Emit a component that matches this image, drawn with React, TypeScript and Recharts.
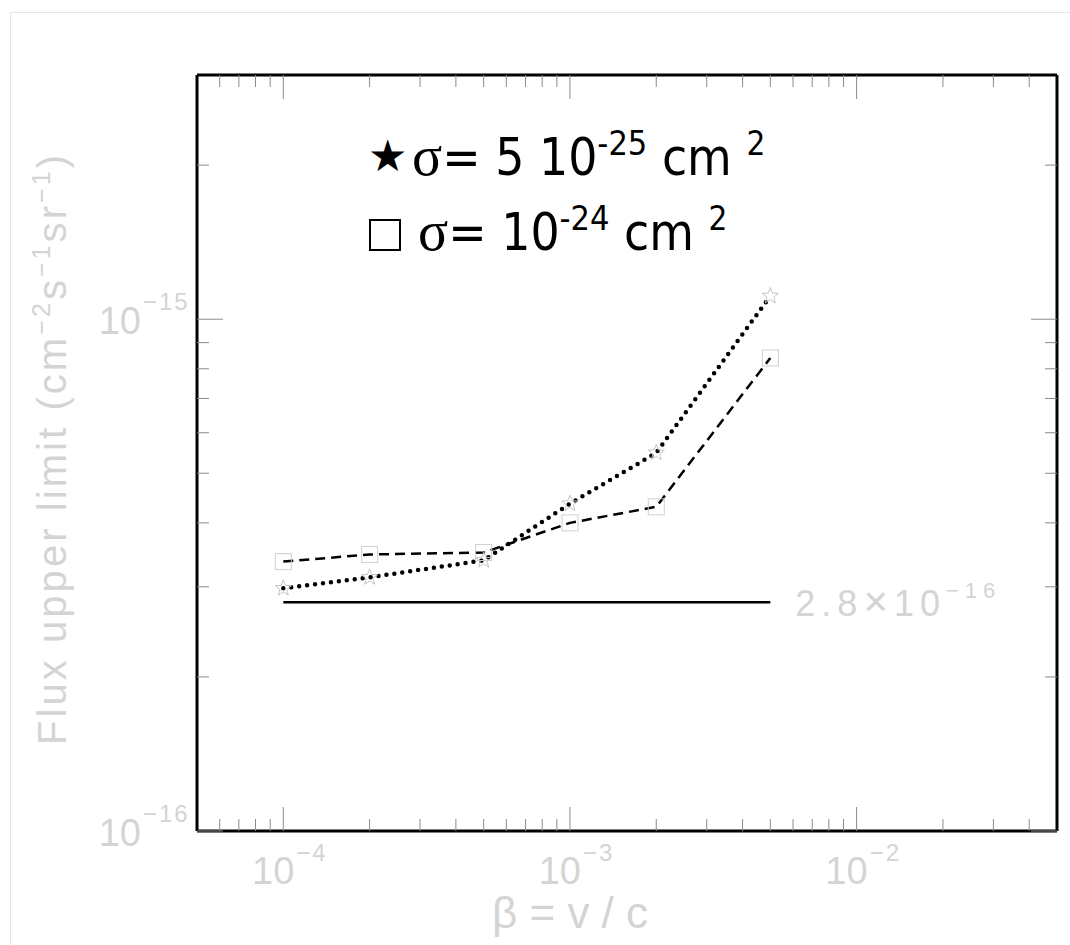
import { ComposedChart, Line, Scatter, XAxis, YAxis } from 'recharts';

// beta = v/c on the x axis, flux upper limit on the y axis (both log)
const beta = [1e-4, 2e-4, 5e-4, 1e-3, 2e-3, 5e-3];
const fluxSigma5e25 = [2.98e-16, 3.13e-16, 3.38e-16, 4.36e-16, 5.48e-16, 1.11e-15];
const fluxSigma1e24 = [3.36e-16, 3.47e-16, 3.5e-16, 4.0e-16, 4.3e-16, 8.4e-16];
const limitBeta = [1e-4, 5e-3];
const limitFlux = 2.8e-16;

const xTicks = [
  6e-5, 7e-5, 8e-5, 9e-5, 1e-4, 2e-4, 3e-4, 4e-4, 5e-4, 6e-4, 7e-4, 8e-4, 9e-4,
  1e-3, 2e-3, 3e-3, 4e-3, 5e-3, 6e-3, 7e-3, 8e-3, 9e-3, 1e-2, 2e-2, 3e-2, 4e-2,
];
const xMajor = [1e-4, 1e-3, 1e-2];
const xMajorExp = ['\u22124', '\u22123', '\u22122'];
const yTicks = [1e-16, 2e-16, 3e-16, 4e-16, 5e-16, 6e-16, 7e-16, 8e-16, 9e-16, 1e-15, 2e-15];
const yMajor = [1e-16, 1e-15];
const yMajorExp = ['\u221216', '\u221215'];

const starRows = beta.map((x, i) => ({ x, y: fluxSigma5e25[i] }));
const squareRows = beta.map((x, i) => ({ x, y: fluxSigma1e24[i] }));
const limitRows = limitBeta.map((x) => ({ x, y: limitFlux }));

const LABEL = '#d4d4d4';
const TICK = '#8a8a8a';
const FONT = "'Liberation Sans', Arial, sans-serif";

function BottomTick({ x, y, payload }: any) {
  const i = xMajor.indexOf(payload.value);
  const len = i >= 0 ? 24 : 12;
  return (
    <g>
      <line x1={x} x2={x} y1={y} y2={y - len} stroke={TICK} strokeWidth={1} />
      {i >= 0 && (
        <text fontFamily={FONT} fill={LABEL}>
          <tspan x={x + 11} y={y + 53} fontSize={38} textAnchor="end">10</tspan>
          <tspan x={x + 13} y={y + 30} fontSize={24} letterSpacing={2}>{xMajorExp[i]}</tspan>
        </text>
      )}
    </g>
  );
}

function TopTick({ x, y, payload }: any) {
  const len = xMajor.indexOf(payload.value) >= 0 ? 24 : 12;
  return <line x1={x} x2={x} y1={y} y2={y + len} stroke={TICK} strokeWidth={1} />;
}

function LeftTick({ x, y, payload }: any) {
  const i = yMajor.indexOf(payload.value);
  const len = i >= 0 ? 26 : 12;
  return (
    <g>
      <line x1={x} x2={x + len} y1={y} y2={y} stroke={TICK} strokeWidth={1} />
      {i >= 0 && (
        <text fontFamily={FONT} fill={LABEL}>
          <tspan x={x - 56} y={y + 15} fontSize={38} textAnchor="end">10</tspan>
          <tspan x={x - 54} y={y - 9} fontSize={24} letterSpacing={2}>{yMajorExp[i]}</tspan>
        </text>
      )}
    </g>
  );
}

function RightTick({ x, y, payload }: any) {
  const len = yMajor.indexOf(payload.value) >= 0 ? 26 : 12;
  return <line x1={x} x2={x - len} y1={y} y2={y} stroke={TICK} strokeWidth={1} />;
}

function XTitle() {
  return (
    <text x={570} y={928} textAnchor="middle" fontFamily={FONT} fontSize={44} fill={LABEL} textLength={156} lengthAdjust="spacing">
      {'\u03b2=v/c'}
    </text>
  );
}

function YTitle() {
  return (
    <text
      transform="rotate(-90)"
      x={-745}
      y={66}
      fontFamily={FONT}
      fontSize={40}
      fill={LABEL}
      textLength={590}
      lengthAdjust="spacing"
    >
      Flux upper limit (cm
      <tspan dy={-16} fontSize={25}>{'\u22122'}</tspan>
      <tspan dy={16}>s</tspan>
      <tspan dy={-16} fontSize={25}>{'\u22121'}</tspan>
      <tspan dy={16}>sr</tspan>
      <tspan dy={-16} fontSize={25}>{'\u22121'}</tspan>
      <tspan dy={16}>)</tspan>
    </text>
  );
}

function StarMarker({ cx, cy }: any) {
  const pts: string[] = [];
  for (let k = 0; k < 10; k++) {
    const r = k % 2 === 0 ? 8.5 : 3.6;
    const a = -Math.PI / 2 + (k * Math.PI) / 5;
    pts.push(`${cx + r * Math.cos(a)},${cy + r * Math.sin(a)}`);
  }
  return <polygon points={pts.join(' ')} fill="none" stroke="#c4c4c4" strokeWidth={1} />;
}

function SquareMarker({ cx, cy }: any) {
  return <rect x={cx - 8} y={cy - 8} width={16} height={16} fill="none" stroke="#d0d0d0" strokeWidth={1} />;
}

function LimitLabel({ x, y, index }: any) {
  if (index !== limitRows.length - 1) return null;
  return (
    <text x={x + 25} y={y + 14} fontFamily={FONT} fontSize={36} fill={LABEL} textLength={200} lengthAdjust="spacing">
      2.8<tspan fontSize={42}>{'\u00d7'}</tspan>10
      <tspan dy={-18} fontSize={22}>{'\u221216'}</tspan>
    </text>
  );
}

function LegendOverlay() {
  const sans = "'DejaVu Sans Condensed', 'DejaVu Sans', sans-serif";
  const serif = "'Liberation Serif', 'DejaVu Serif', serif";
  return (
    <svg width={1070} height={945} style={{ position: 'absolute', left: 0, top: 0, pointerEvents: 'none' }}>
      <text x={368} y={171} fontFamily="'DejaVu Sans', sans-serif" fontSize={44} fill="#000">
        {'\u2605'}
      </text>
      <text x={412} y={175} fill="#000" fontFamily={sans} fontSize={51} style={{ fontStretch: 'condensed' }}>
        <tspan fontFamily={serif} fontSize={56}>{'\u03c3'}</tspan>
        <tspan>= 5 10</tspan>
        <tspan dy={-20} fontSize={34}>-25</tspan>
        <tspan dy={20}> cm </tspan>
        <tspan dy={-20} fontSize={33}>2</tspan>
      </text>
      <rect x={370} y={220} width={30} height={30} fill="none" stroke="#000" strokeWidth={2} />
      <text x={418} y={250} fill="#000" fontFamily={sans} fontSize={51} style={{ fontStretch: 'condensed' }}>
        <tspan fontFamily={serif} fontSize={56}>{'\u03c3'}</tspan>
        <tspan>= 10</tspan>
        <tspan dy={-20} fontSize={34}>-24</tspan>
        <tspan dy={20}> cm </tspan>
        <tspan dy={-20} fontSize={33}>2</tspan>
      </text>
    </svg>
  );
}

export default function App() {
  const logX = { type: 'number' as const, scale: 'log' as const, domain: [5e-5, 5e-2], allowDataOverflow: true, dataKey: 'x' };
  const logY = { type: 'number' as const, scale: 'log' as const, domain: [1e-16, 3e-15], allowDataOverflow: true, dataKey: 'y' };
  const frame = { stroke: '#000', strokeWidth: 3 };

  return (
    <div style={{ position: 'absolute', left: 0, top: 0, width: 1070, height: 945, background: '#fff', overflow: 'hidden' }}>
      <div style={{ position: 'absolute', left: 10, top: 12, width: 1070, height: 945, border: '1px solid #e6e6e6' }} />
      <div style={{ position: 'absolute', left: 0, top: 0 }}>
        <ComposedChart width={1070} height={945} margin={{ top: 74, right: 12, bottom: 113, left: 196 }}>
          <XAxis {...logX} xAxisId="b" ticks={xTicks} interval={0} height={1} tickSize={0} tickMargin={0} tickLine={false} axisLine={frame} tick={BottomTick} label={<XTitle />} />
          <XAxis {...logX} xAxisId="t" orientation="top" ticks={xTicks} interval={0} height={1} tickSize={0} tickMargin={0} tickLine={false} axisLine={frame} tick={TopTick} />
          <YAxis {...logY} yAxisId="l" ticks={yTicks} interval={0} width={1} tickSize={0} tickMargin={0} tickLine={false} axisLine={frame} tick={LeftTick} label={<YTitle />} />
          <YAxis {...logY} yAxisId="r" orientation="right" ticks={yTicks} interval={0} width={1} tickSize={0} tickMargin={0} tickLine={false} axisLine={frame} tick={RightTick} />

          <Scatter xAxisId="b" yAxisId="l" data={starRows} dataKey="y" shape={StarMarker} isAnimationActive={false} />
          <Scatter xAxisId="b" yAxisId="l" data={squareRows} dataKey="y" shape={SquareMarker} isAnimationActive={false} />

          <Line xAxisId="b" yAxisId="l" data={squareRows} dataKey="y" type="linear" stroke="#000" strokeWidth={2.5} strokeDasharray="10 6" dot={false} isAnimationActive={false} />
          <Line xAxisId="b" yAxisId="l" data={starRows} dataKey="y" type="linear" stroke="#000" strokeWidth={4.5} strokeDasharray="0 8" strokeLinecap="round" dot={false} isAnimationActive={false} />
          <Line xAxisId="b" yAxisId="l" data={limitRows} dataKey="y" type="linear" stroke="#000" strokeWidth={2.5} dot={false} label={LimitLabel} isAnimationActive={false} />
        </ComposedChart>
      </div>
      <LegendOverlay />
    </div>
  );
}
